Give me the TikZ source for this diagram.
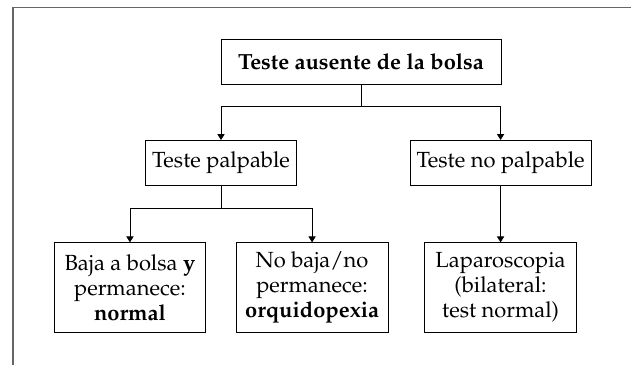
\documentclass[tikz,border=0pt]{standalone}
\usepackage[T1]{fontenc}
\usepackage{mathpazo}
\usetikzlibrary{arrows.meta,positioning}

\begin{document}
\begin{tikzpicture}[x=0.47pt,y=-0.47pt,->,>={Triangle[width=3.4pt,length=2.8pt]},node distance=47.7pt,thin]
		\tikzstyle{every node}=[font=\fontsize{10.3}{11.8}\selectfont]
		\tikzstyle{caja}=[rectangle, draw=black, minimum height=21.2pt, inner sep=2pt, align=center]
		\tikzstyle{cajabaja}=[caja, minimum width=71.4pt, minimum height=42pt]
		
		\useasboundingbox (0,0) rectangle (631,365);
		\draw[-, draw=black!60, line width=0.7pt] (13,365) -- (13,7.5) -- (631,7.5);
		
		\node[caja, minimum width=131.6pt] (ausente) at (361,61.5) {\textbf{Teste ausente de la bolsa}};
		\node[caja, minimum width=71pt]    (palp) [below of=ausente, xshift=-65.8pt] {Teste palpable};
		\node[caja, minimum width=85pt]    (nopalp) [below of=ausente, xshift=65.6pt] {Teste no palpable};
		\node[cajabaja] (baja) [below of=palp, node distance=58.5pt, xshift=-42.8pt] {Baja a bolsa \textbf{y}\\permanece:\\\textbf{normal}};
		\node[cajabaja] (nobaja) [below of=palp, node distance=58.5pt, xshift=42.8pt] {No baja/no\\permanece:\\\textbf{orquidopexia}};
		\node[cajabaja] (lapa) [below of=nopalp, node distance=58.5pt] {Laparoscopia\\(bilateral:\\test normal)};
		
		\draw (ausente.south) -- ++(0,22) -| (palp);
		\draw (ausente.south) -- ++(0,22) -| (nopalp);
		\draw (palp.south) -- ++(0,22) -| (baja);
		\draw (palp.south) -- ++(0,22) -| (nobaja);
		\draw (nopalp) -- (lapa);
		\end{tikzpicture}
\end{document}
